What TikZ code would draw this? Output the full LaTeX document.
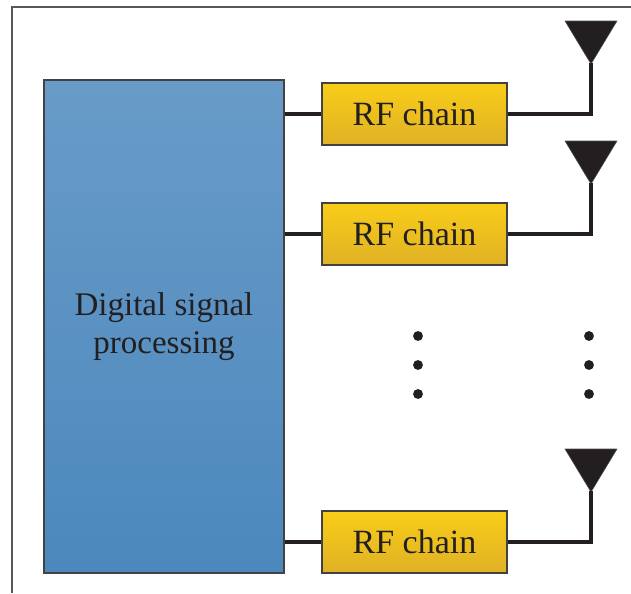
\documentclass[tikz,border=0pt]{standalone}
\usepackage{fontspec}
\setmainfont{Liberation Serif}
\definecolor{inkdark}{RGB}{35,31,32}
\definecolor{dspTop}{RGB}{104,155,200}
\definecolor{dspBot}{RGB}{76,136,189}
\definecolor{rfTop}{RGB}{249,205,24}
\definecolor{rfBot}{RGB}{223,177,38}
\begin{document}
\begin{tikzpicture}[x=0.75pt,y=0.75pt,yscale=-1,xscale=1,
  dspbox/.style={draw=inkdark!85,line width=0.9pt,top color=dspTop,bottom color=dspBot,minimum width=180pt,minimum height=369.75pt,inner sep=0pt,text=inkdark,align=center,font=\fontsize{24.75}{28.5}\selectfont},
  rfbox/.style={draw=inkdark!85,line width=0.9pt,top color=rfTop,bottom color=rfBot,minimum width=138.75pt,minimum height=46.5pt,inner sep=0pt,text=inkdark,font=\fontsize{25.5}{30}\selectfont},
  wire/.style={draw=inkdark,line width=2.5pt},
  antenna/.style={fill=inkdark,draw=inkdark!80,line width=0.4pt}]
\useasboundingbox (0,0) rectangle (631,593);

%Frame
\draw [color=inkdark!75,line width=0.8pt] (12,593) -- (12,7) -- (631,7) ;

%Blocks
\node [dspbox] (dsp) at (164,326.5) {Digital signal\\processing};
\node [rfbox] (rf1) at (414.5,114) {RF chain};
\node [rfbox] (rf2) at (414.5,234) {RF chain};
\node [rfbox] (rf3) at (414.5,542) {RF chain};

%Antennas
\draw [antenna] (565,21) -- (617,21) -- (591,64) -- cycle ;
\coordinate (ant1) at (591,63);
\draw [antenna] (565,141) -- (617,141) -- (591,184) -- cycle ;
\coordinate (ant2) at (591,183);
\draw [antenna] (565,449) -- (617,449) -- (591,492) -- cycle ;
\coordinate (ant3) at (591,491);

%Wires
\draw [wire] (dsp.east |- rf1) -- (rf1.west) ;
\draw [wire] (dsp.east |- rf2) -- (rf2.west) ;
\draw [wire] (dsp.east |- rf3) -- (rf3.west) ;
\draw [wire] (rf1.east) -| (ant1) ;
\draw [wire] (rf2.east) -| (ant2) ;
\draw [wire] (rf3.east) -| (ant3) ;

%Dots
\foreach \y in {336,365,394} {
  \fill [inkdark] (418,\y) circle (3.7pt) ;
  \fill [inkdark] (589,\y) circle (3.7pt) ;
}
\end{tikzpicture}
\end{document}
